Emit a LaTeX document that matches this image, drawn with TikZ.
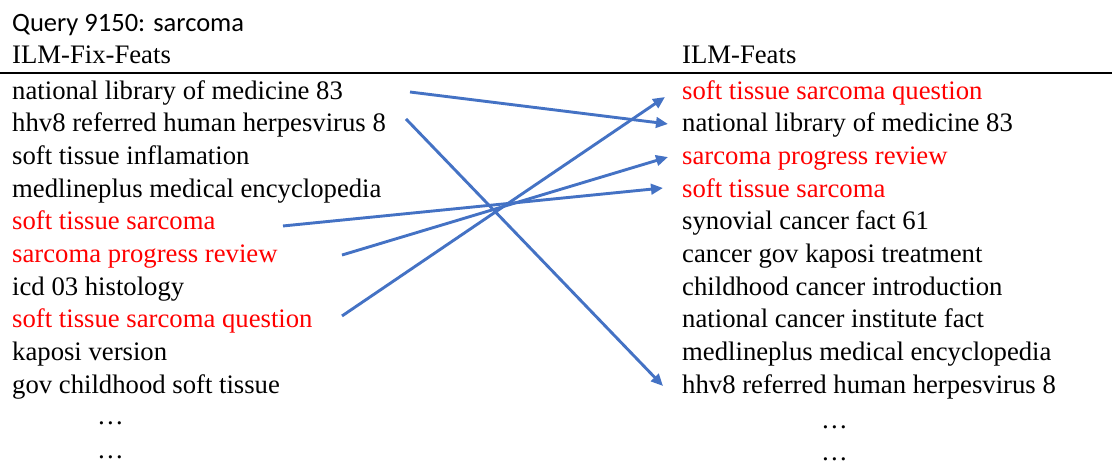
\documentclass[tikz,border=0pt]{standalone}
\usepackage{fontspec}
\setmainfont{Liberation Serif}
\newfontfamily\titlefont{Carlito}
\usetikzlibrary{calc,arrows.meta}
\definecolor{linkblue}{HTML}{4472C4}
\definecolor{hitred}{HTML}{FF0000}
\begin{document}
\begin{tikzpicture}[x=1pt,y=-1pt,
  item/.style={anchor=base west,inner sep=0pt,font=\fontsize{26.7}{30}\selectfont},
  hit/.style={item,text=hitred},
  head/.style={item},
  link/.style={draw=linkblue,line width=2.9pt,-{Triangle[length=12pt,width=10.5pt]}}]
\useasboundingbox (0,0) rectangle (1112,464);
% title and column headers
\node[anchor=base west,inner sep=0pt,font=\titlefont\fontsize{26.5}{30}\selectfont] (title) at (12,31) {Query 9150: sarcoma};
\node[head] (hl) at (12,63) {ILM-Fix-Feats};
\node[head] (hr) at (682,63) {ILM-Feats};
\draw[line width=1.8pt] (0,73) -- (1112,73);
% left column
\node[item] (L1)  at (12,99)     {national library of medicine 83};
\node[item] (L2)  at (12,131.67) {hhv8 referred human herpesvirus 8};
\node[item] (L3)  at (12,164.33) {soft tissue inflamation};
\node[item] (L4)  at (12,197)    {medlineplus medical encyclopedia};
\node[hit]  (L5)  at (12,229.67) {soft tissue sarcoma};
\node[hit]  (L6)  at (12,262.33) {sarcoma progress review};
\node[item] (L7)  at (12,295)    {icd 03 histology};
\node[hit]  (L8)  at (12,327.67) {soft tissue sarcoma question};
\node[item] (L9)  at (12,360.33) {kaposi version};
\node[item] (L10) at (12,393)    {gov childhood soft tissue};
\node[item] (Ld1) at (97,424)    {\ldots};
\node[item] (Ld2) at (97,458)    {\ldots};
% right column
\node[hit]  (R1)  at (682,99)     {soft tissue sarcoma question};
\node[item] (R2)  at (682,131.67) {national library of medicine 83};
\node[hit]  (R3)  at (682,164.33) {sarcoma progress review};
\node[hit]  (R4)  at (682,197)    {soft tissue sarcoma};
\node[item] (R5)  at (682,229.67) {synovial cancer fact 61};
\node[item] (R6)  at (682,262.33) {cancer gov kaposi treatment};
\node[item] (R7)  at (682,295)    {childhood cancer introduction};
\node[item] (R8)  at (682,327.67) {national cancer institute fact};
\node[item] (R9)  at (682,360.33) {medlineplus medical encyclopedia};
\node[item] (R10) at (682,393)    {hhv8 referred human herpesvirus 8};
\node[item] (Rd1) at (821,428)    {\ldots};
\node[item] (Rd2) at (821,460)    {\ldots};
% rank changes
\draw[link] ($(L1.base west)+(398,-7)$)  -- ($(R2.base west)+(-14,-7.7)$);
\draw[link] ($(L2.base west)+(394,-12.7)$) -- ($(R10.base west)+(-19,-7)$);
\draw[link] ($(L5.base west)+(271,-3.7)$) -- ($(R4.base west)+(-19,-9)$);
\draw[link] ($(L6.base west)+(330,-7.3)$) -- ($(R3.base west)+(-14,-7.3)$);
\draw[link] ($(L8.base west)+(330,-11.7)$) -- ($(R1.base west)+(-17,-2)$);
\end{tikzpicture}
\end{document}
